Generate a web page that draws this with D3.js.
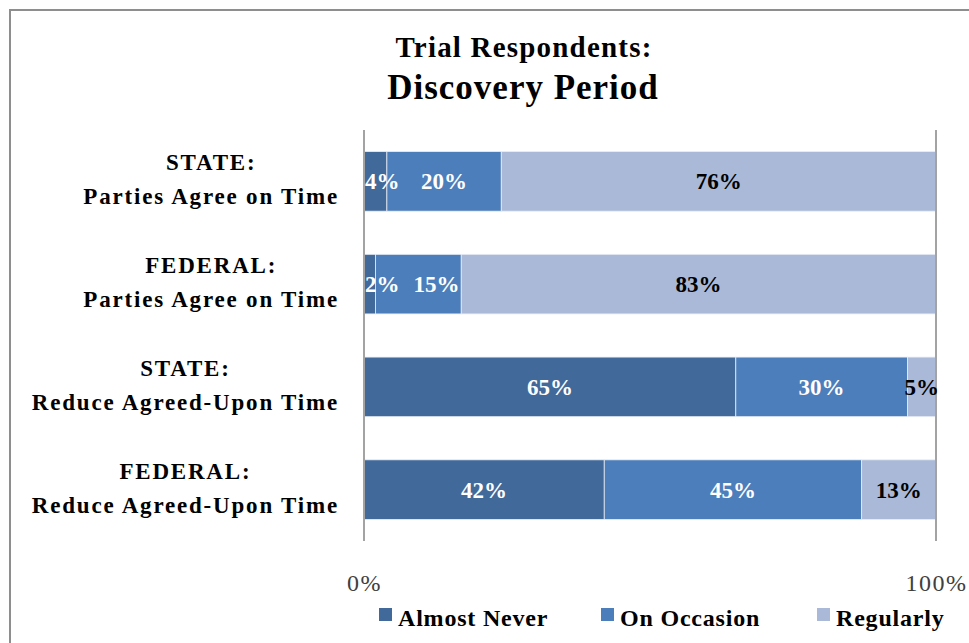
<!DOCTYPE html>
<html>
<head>
<meta charset="utf-8">
<script src="https://cdn.jsdelivr.net/npm/d3@7"></script>
<style>
  html, body { margin: 0; padding: 0; background: #fff; }
  svg { display: block; }
  text { font-family: "Liberation Serif", "DejaVu Serif", serif; }
</style>
</head>
<body>
<svg id="chart" width="969" height="643"></svg>
<script>
// ---- Data ----
const titleLines = ["Trial Respondents:", "Discovery Period"];
const categories = [
  ["STATE:", "Parties Agree on Time"],
  ["FEDERAL:", "Parties Agree on Time"],
  ["STATE:", "Reduce Agreed-Upon Time"],
  ["FEDERAL:", "Reduce Agreed-Upon Time"]
];
const seriesNames = ["Almost Never", "On Occasion", "Regularly"];
const almostNever = [4, 2, 65, 42];
const onOccasion = [20, 15, 30, 45];
const regularly = [76, 83, 5, 13];
const tickValues = [0, 100];
const tickLabels = ["0%", "100%"];
const seriesColors = ["#41699a", "#4c7ebb", "#aab9d8"];
const labelColors = ["#ffffff", "#ffffff", "#000000"];

// ---- Setup ----
const svg = d3.select("#chart");
const W = 969, H = 643;
const plot = { left: 364, right: 936, top: 130, bottom: 541 };

// Outer border
svg.append("rect")
  .attr("x", 10).attr("y", 10)
  .attr("width", W).attr("height", H)
  .attr("fill", "none").attr("stroke", "#8e8e8e").attr("stroke-width", 2);

// Title
svg.append("text").attr("x", 524).attr("y", 57)
  .attr("text-anchor", "middle").attr("font-weight", "bold")
  .attr("font-size", 29).attr("letter-spacing", 1.2).attr("fill", "#000").text(titleLines[0]);
svg.append("text").attr("x", 523).attr("y", 99)
  .attr("text-anchor", "middle").attr("font-weight", "bold")
  .attr("font-size", 35).attr("letter-spacing", 1).attr("fill", "#000").text(titleLines[1]);

// Scales
const x = d3.scaleLinear().domain([0, 100]).range([plot.left, plot.right]);
const y = d3.scaleBand().domain(d3.range(categories.length))
  .range([plot.top, plot.bottom]).paddingInner(0.42).paddingOuter(0.21);

// Stack
const rows = categories.map((c, i) => ({
  idx: i,
  "Almost Never": almostNever[i],
  "On Occasion": onOccasion[i],
  "Regularly": regularly[i]
}));
const stack = d3.stack().keys(seriesNames)(rows);

// Bars
const layers = svg.append("g").selectAll("g").data(stack).join("g")
  .attr("fill", (d, i) => seriesColors[i]);
layers.selectAll("rect").data(d => d).join("rect")
  .attr("x", d => x(d[0]))
  .attr("y", (d, j) => y(j))
  .attr("width", d => x(d[1]) - x(d[0]))
  .attr("height", y.bandwidth())
  .attr("stroke", "#e8edf5").attr("stroke-width", 0.8);

// Gridlines (0% and 100%)
svg.append("g").selectAll("line").data(tickValues).join("line")
  .attr("x1", d => x(d)).attr("x2", d => x(d))
  .attr("y1", plot.top).attr("y2", plot.bottom)
  .attr("stroke", "#a3a3a3").attr("stroke-width", 2);

// Data labels (centered in segment, nudged right to stay inside and avoid overlap)
const labelG = svg.append("g");
categories.forEach((c, j) => {
  let prevRight = plot.left + 1;
  stack.forEach((layer, si) => {
    const d = layer[j];
    const t = labelG.append("text")
      .attr("y", y(j) + y.bandwidth() / 2 + 8)
      .attr("text-anchor", "middle")
      .attr("font-weight", "bold").attr("font-size", 23)
      .attr("fill", labelColors[si])
      .text((d[1] - d[0]) + "%");
    const w = t.node().getComputedTextLength();
    let cx = (x(d[0]) + x(d[1])) / 2;
    const gap = prevRight > plot.left + 1 ? 14 : 0;
    if (cx - w / 2 < prevRight + gap) cx = prevRight + gap + w / 2;
    if (cx + w / 2 > plot.right + 3) cx = plot.right + 3 - w / 2;
    t.attr("x", cx);
    prevRight = cx + w / 2;
  });
});

// Category labels (block right-aligned at 338, lines centered within block)
const catG = svg.append("g");
categories.forEach((lines, i) => {
  const cy = y(i) + y.bandwidth() / 2;
  const g = catG.append("g");
  const texts = lines.map((t, k) => g.append("text")
    .attr("y", cy - 11 + k * 34)
    .attr("text-anchor", "middle")
    .attr("font-weight", "bold").attr("font-size", 23)
    .attr("letter-spacing", 1.8)
    .attr("fill", "#000").text(t));
  const maxW = d3.max(texts, t => t.node().getComputedTextLength());
  texts.forEach(t => t.attr("x", 339 - maxW / 2));
});

// X axis tick labels
const axis = d3.axisBottom(x).tickValues(tickValues)
  .tickFormat((d, i) => tickLabels[i]).tickSize(0).tickPadding(0);
const axG = svg.append("g").attr("transform", `translate(0, 591)`).call(axis);
axG.select(".domain").remove();
axG.selectAll("text")
  .attr("font-family", '"Liberation Serif", serif')
  .attr("font-size", 24).attr("letter-spacing", 1.5)
  .attr("fill", "#404040").attr("y", 0).attr("dy", 0);

// Legend
const legendX = [379, 601, 817];
const lg = svg.append("g").selectAll("g").data(seriesNames).join("g")
  .attr("transform", (d, i) => `translate(${legendX[i]}, 608)`);
lg.append("rect").attr("width", 13).attr("height", 13)
  .attr("fill", (d, i) => seriesColors[i]);
lg.append("text").attr("x", 19).attr("y", 18)
  .attr("font-weight", "bold").attr("font-size", 24).attr("letter-spacing", 0.8)
  .attr("fill", "#000").text(d => d);
</script>
</body>
</html>
